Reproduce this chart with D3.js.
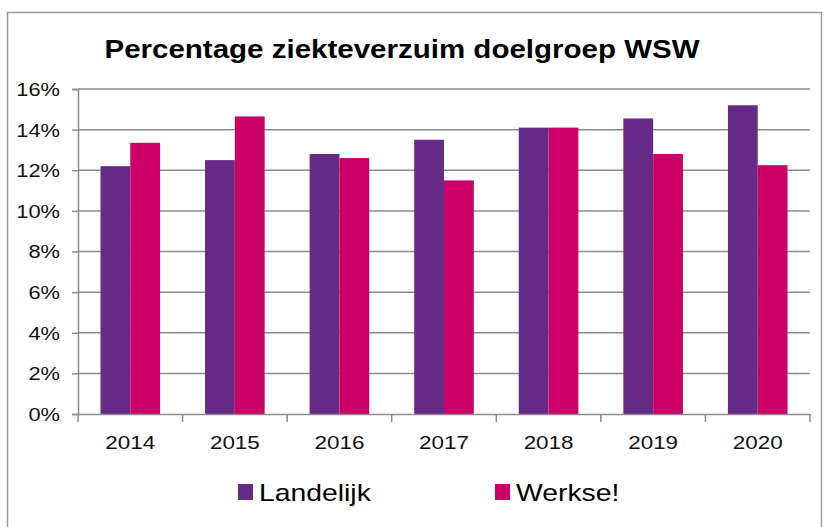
<!DOCTYPE html>
<html>
<head>
<meta charset="utf-8">
<script src="https://cdn.jsdelivr.net/npm/d3@7"></script>
<style>
  body { margin: 0; background: #fff; }
  text { font-family: "Liberation Sans", Arial, sans-serif; }
</style>
</head>
<body>
<div id="chart"></div>
<script>
// data
const years = ["2014", "2015", "2016", "2017", "2018", "2019", "2020"];
const landelijk = [12.2, 12.5, 12.8, 13.5, 14.1, 14.55, 15.2];
const werkse = [13.35, 14.65, 12.6, 11.5, 14.1, 12.8, 12.25];
const seriesNames = ["Landelijk", "Werkse!"];
const yTicks = [0, 2, 4, 6, 8, 10, 12, 14, 16];

const colors = { "Landelijk": "#662a87", "Werkse!": "#cc0066" };

const width = 825, height = 527;
const margin = { top: 89, right: 15, bottom: 113, left: 78 };
// the original picture is a little stretched sideways
const stretch = 1.18;

const svg = d3.select("#chart")
    .append("svg")
    .attr("width", width)
    .attr("height", height);

// outer frame
svg.append("rect")
    .attr("x", 7.5)
    .attr("y", 12.5)
    .attr("width", 814)
    .attr("height", 530)
    .attr("fill", "none")
    .attr("stroke", "#9a9a9a")
    .attr("stroke-width", 1.5);

// title
svg.append("text")
    .attr("x", 402)
    .attr("y", 58)
    .attr("text-anchor", "middle")
    .style("font-size", "25px")
    .style("font-weight", "bold")
    .attr("fill", "#000")
    .text("Percentage ziekteverzuim doelgroep WSW");

const x0 = d3.scaleBand()
    .domain(years)
    .range([margin.left, width - margin.right])
    .paddingInner(0.43)
    .paddingOuter(0.215);

const x1 = d3.scaleBand()
    .domain(seriesNames)
    .range([0, x0.bandwidth()]);

const y = d3.scaleLinear()
    .domain([0, 16])
    .range([height - margin.bottom, margin.top]);

// grid lines
svg.append("g")
    .selectAll("line")
    .data(yTicks.slice(1))
    .enter()
    .append("line")
    .attr("x1", margin.left)
    .attr("x2", width - margin.right)
    .attr("y1", d => y(d))
    .attr("y2", d => y(d))
    .attr("stroke", "#8c8c8c")
    .attr("stroke-width", 1.5);

// bars
const rows = years.map((yr, i) => ({ year: yr, values: [
    { name: "Landelijk", value: landelijk[i] },
    { name: "Werkse!", value: werkse[i] }
]}));

svg.selectAll(".group")
    .data(rows)
    .enter()
    .append("g")
    .attr("class", "group")
    .attr("transform", d => `translate(${x0(d.year)},0)`)
    .selectAll("rect")
    .data(d => d.values)
    .enter()
    .append("rect")
    .attr("x", d => x1(d.name))
    .attr("y", d => y(d.value))
    .attr("width", x1.bandwidth())
    .attr("height", d => y(0) - y(d.value))
    .attr("fill", d => colors[d.name]);

// y axis
const yAxis = d3.axisLeft(y)
    .tickValues(yTicks)
    .tickFormat(d => d + "%")
    .tickSize(6)
    .tickPadding(12);

const yg = svg.append("g")
    .attr("transform", `translate(${margin.left},0)`)
    .call(yAxis);
yg.select(".domain").attr("stroke", "#8c8c8c").attr("stroke-width", 1.5);
yg.selectAll(".tick line").attr("stroke", "#8c8c8c").attr("stroke-width", 1.5);
yg.selectAll(".tick text")
    .style("font-size", "18.5px")
    .attr("fill", "#111")
    .attr("dy", "0.35em");

// x axis
const xOuter = d3.scaleBand()
    .domain(years)
    .range([margin.left, width - margin.right]);

const xg = svg.append("g")
    .attr("transform", `translate(0,${y(0)})`)
    .call(d3.axisBottom(xOuter).tickSize(0).tickPadding(22));
xg.select(".domain").attr("stroke", "#8c8c8c").attr("stroke-width", 1.5);
xg.selectAll(".tick text")
    .style("font-size", "19px")
    .attr("fill", "#111");

// category boundary tick marks
xg.selectAll(".bound")
    .data(d3.range(years.length + 1))
    .enter()
    .append("line")
    .attr("x1", i => margin.left + i * xOuter.step())
    .attr("x2", i => margin.left + i * xOuter.step())
    .attr("y1", 0)
    .attr("y2", 8)
    .attr("stroke", "#8c8c8c")
    .attr("stroke-width", 1.5);

// legend
const legendX = [238, 495];
const legend = svg.selectAll(".legend")
    .data(seriesNames)
    .enter()
    .append("g")
    .attr("class", "legend")
    .attr("transform", (d, i) => `translate(${legendX[i]},484)`);

legend.append("rect")
    .attr("width", 15)
    .attr("height", 16)
    .attr("fill", d => colors[d]);

legend.append("text")
    .attr("x", 21)
    .attr("y", 8)
    .attr("dy", "0.36em")
    .style("font-size", "24px")
    .attr("fill", "#000")
    .text(d => d);

// widen all text a bit to match the stretched look
svg.selectAll("text").each(function() {
    const w = this.getComputedTextLength();
    d3.select(this)
        .attr("textLength", w * stretch)
        .attr("lengthAdjust", "spacingAndGlyphs");
});
</script>
</body>
</html>
